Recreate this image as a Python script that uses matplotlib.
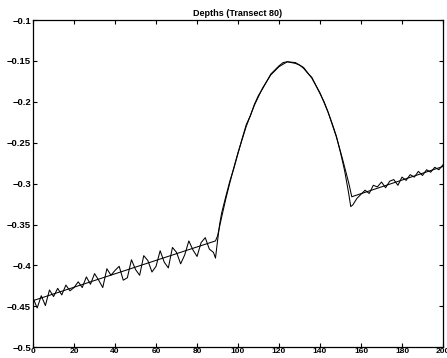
import matplotlib
matplotlib.use("Agg")
import matplotlib.pyplot as plt

# Measured transect depths
obs_x = [0, 2, 4, 6, 8, 10, 12, 14, 16, 18, 20, 22, 24, 26, 28, 30, 32, 34, 36, 38,
         40, 42, 44, 46, 48, 50, 52, 54, 56, 58, 60, 62, 64, 66, 68, 70, 72, 74, 76, 78,
         80, 82, 84, 86, 88, 89, 90, 91, 92, 94, 96, 98, 100, 102, 104, 106, 108, 110,
         112, 114, 116, 118, 120, 122, 124, 126, 128, 130, 132, 134, 136, 138, 140, 142,
         144, 146, 148, 150, 152, 154, 155, 156, 158, 160, 162, 164, 166, 168, 170, 172,
         174, 176, 178, 180, 182, 184, 186, 188, 190, 192, 194, 196, 198, 200]
obs_depth = [-0.440, -0.452, -0.437, -0.449, -0.430, -0.438, -0.428, -0.436, -0.424, -0.431,
             -0.427, -0.420, -0.427, -0.414, -0.423, -0.410, -0.418, -0.427, -0.404, -0.412,
             -0.406, -0.401, -0.418, -0.415, -0.393, -0.405, -0.412, -0.388, -0.394, -0.408,
             -0.401, -0.382, -0.396, -0.403, -0.378, -0.384, -0.398, -0.387, -0.370, -0.381,
             -0.389, -0.372, -0.366, -0.380, -0.384, -0.391, -0.370, -0.350, -0.336, -0.316,
             -0.297, -0.281, -0.263, -0.245, -0.228, -0.217, -0.203, -0.192, -0.184, -0.175,
             -0.166, -0.161, -0.156, -0.152, -0.151, -0.152, -0.153, -0.155, -0.159, -0.165,
             -0.170, -0.180, -0.190, -0.200, -0.213, -0.227, -0.242, -0.262, -0.284, -0.312,
             -0.328, -0.326, -0.318, -0.313, -0.308, -0.312, -0.302, -0.304, -0.298, -0.305,
             -0.297, -0.295, -0.302, -0.292, -0.296, -0.289, -0.292, -0.285, -0.290, -0.283,
             -0.286, -0.280, -0.283, -0.277]

# Fitted profile (linear trend plus bar)
fit_x = [0, 89, 90, 92, 94, 96, 98, 100, 104, 108, 112, 116, 120, 124, 128, 132, 136,
         140, 144, 148, 151, 154, 155.5, 200]
fit_depth = [-0.443, -0.370, -0.364, -0.341, -0.319, -0.299, -0.280, -0.262, -0.230,
             -0.204, -0.183, -0.167, -0.157, -0.151, -0.152, -0.158, -0.171, -0.189,
             -0.213, -0.243, -0.270, -0.299, -0.316, -0.279]

x_ticks = list(range(0, 201, 20))
y_ticks = [-0.5, -0.45, -0.4, -0.35, -0.3, -0.25, -0.2, -0.15, -0.1]
y_labels = ["\u22120.5", "\u22120.45", "\u22120.4", "\u22120.35", "\u22120.3",
            "\u22120.25", "\u22120.2", "\u22120.15", "\u22120.1"]

plt.rcParams['font.family'] = ['Liberation Sans', 'DejaVu Sans']

fig = plt.figure(figsize=(4.47, 3.58), dpi=100)
ax = fig.add_axes([0.074, 0.030, 0.917, 0.914])

ax.plot(obs_x, obs_depth, color='black', linewidth=0.75)
ax.plot(fit_x, fit_depth, color='black', linewidth=0.75)

ax.set_xlim(0, 200)
ax.set_ylim(-0.5, -0.1)
ax.set_xticks(x_ticks)
ax.set_xticklabels([str(v) for v in x_ticks])
ax.set_yticks(y_ticks)
ax.set_yticklabels(y_labels)
ax.tick_params(direction='in', length=3, width=0.8, top=True, right=True, pad=1.5)
ax.tick_params(axis='y', labelsize=6.8)
ax.tick_params(axis='x', labelsize=6.0, pad=0.8)
for lab in ax.get_xticklabels() + ax.get_yticklabels():
    lab.set_fontweight('bold')
for sp in ax.spines.values():
    sp.set_linewidth(0.9)

ax.set_title("Depths (Transect 80)", fontsize=6.5, fontweight='bold', pad=3)

fig.savefig("out.png", dpi=100)
